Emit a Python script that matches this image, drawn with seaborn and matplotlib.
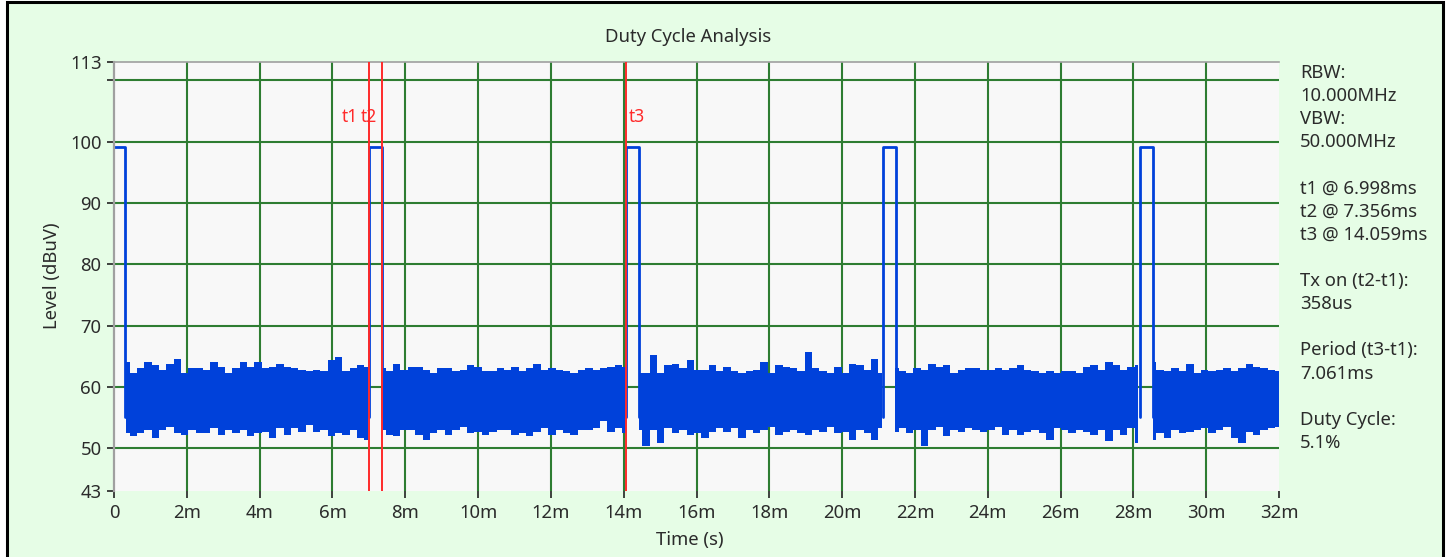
import numpy as np
import pandas as pd
import matplotlib
matplotlib.use("Agg")
import matplotlib.pyplot as plt
import seaborn as sns
from matplotlib.patches import Rectangle

# ---- values (time in ms, level in dBuV)
pulse_on = [0.0, 6.998, 14.059, 21.12, 28.181]
pulse_off = [0.31, 7.356, 14.417, 21.478, 28.539]
pulse_top = 99.2
pulse_base = 55.0

marker_names = ["t1", "t2", "t3"]
marker_t = [6.998, 7.356, 14.059]

# noise floor between pulses: upper / lower envelope, ~0.2 ms steps
seg_span = [(0.33, 6.98), (7.36, 14.06), (14.41, 21.10), (21.45, 28.14), (28.53, 32.0)]
upper_1 = [64.1, 62.2, 63.0, 64.1, 63.6, 62.7, 63.8, 64.6, 62.2, 63.0, 63.0, 62.7, 64.1, 63.3,
           62.2, 63.0, 64.1, 63.3, 64.1, 63.0, 63.3, 63.8, 63.3, 63.0, 62.7, 62.5, 62.7, 62.5,
           64.3, 64.9, 62.5, 63.0, 63.6, 63.3]
lower_1 = [52.4, 51.9, 52.4, 53.0, 51.6, 53.0, 53.5, 52.4, 52.1, 53.0, 52.4, 52.4, 53.2, 52.1,
           53.0, 52.4, 53.0, 51.9, 52.4, 52.7, 51.6, 53.2, 52.1, 53.2, 52.7, 53.7, 52.7, 53.0,
           51.9, 52.4, 52.1, 53.0, 51.6, 51.3]
upper_2 = [63.0, 62.5, 63.8, 62.7, 63.3, 63.3, 62.7, 62.2, 63.0, 63.0, 62.5, 62.7, 63.6, 63.3,
           62.5, 62.5, 63.0, 62.7, 63.3, 62.5, 63.0, 63.8, 62.7, 63.0, 62.7, 62.5, 62.2, 62.7,
           63.0, 62.7, 63.0, 63.3, 63.6, 63.3]
lower_2 = [53.0, 52.1, 51.9, 53.0, 53.0, 52.1, 51.3, 52.4, 53.0, 52.1, 53.0, 53.5, 52.4, 52.7,
           52.1, 52.7, 53.0, 53.0, 52.1, 52.4, 51.9, 52.7, 53.2, 52.1, 53.0, 52.4, 52.1, 53.0,
           53.0, 53.2, 54.5, 52.7, 53.2, 52.4]
upper_3 = [62.2, 62.2, 65.2, 62.2, 63.6, 63.8, 63.0, 64.3, 62.7, 62.7, 63.6, 62.5, 63.3, 62.5,
           62.2, 62.5, 62.7, 64.1, 62.2, 63.6, 63.3, 63.0, 62.5, 65.7, 63.0, 62.5, 62.2, 63.3,
           62.2, 63.8, 63.6, 62.7, 64.6, 62.2]
lower_3 = [53.0, 50.4, 53.0, 50.8, 53.2, 52.4, 53.0, 52.1, 52.4, 51.6, 52.7, 53.2, 52.7, 53.2,
           51.6, 53.0, 52.4, 53.0, 53.5, 52.1, 52.7, 53.0, 52.4, 52.1, 53.0, 52.7, 53.5, 52.4,
           52.7, 51.3, 53.0, 52.4, 51.3, 53.2]
upper_4 = [63.0, 62.5, 62.2, 63.0, 62.7, 63.8, 63.3, 63.6, 62.2, 62.7, 63.0, 63.0, 62.7, 62.7,
           63.0, 62.7, 63.0, 63.6, 62.7, 62.5, 62.2, 62.5, 62.2, 62.5, 62.5, 62.2, 63.3, 63.6,
           62.7, 64.1, 63.6, 62.7, 63.3, 63.6]
lower_4 = [52.7, 53.2, 52.4, 53.0, 50.4, 53.0, 53.5, 51.9, 53.0, 52.7, 53.2, 53.0, 52.7, 53.0,
           53.5, 52.1, 53.0, 52.1, 52.7, 53.0, 52.4, 51.3, 53.2, 53.0, 52.4, 53.0, 52.7, 52.1,
           53.0, 51.1, 53.0, 52.1, 53.2, 50.8]
upper_5 = [64.1, 62.7, 62.5, 63.0, 62.5, 63.8, 62.2, 62.7, 62.5, 62.7, 63.0, 62.5, 63.0, 63.8,
           63.3, 63.0, 62.7, 62.5]
lower_5 = [51.3, 52.4, 51.6, 53.0, 52.4, 52.7, 53.0, 53.2, 52.4, 53.0, 53.5, 51.6, 50.8, 52.7,
           52.1, 53.0, 53.2, 53.5]
upper_env = [upper_1, upper_2, upper_3, upper_4, upper_5]
lower_env = [lower_1, lower_2, lower_3, lower_4, lower_5]

x_ticks = [0, 2, 4, 6, 8, 10, 12, 14, 16, 18, 20, 22, 24, 26, 28, 30, 32]
x_labels = ["0", "2m", "4m", "6m", "8m", "10m", "12m", "14m", "16m", "18m", "20m",
            "22m", "24m", "26m", "28m", "30m", "32m"]
y_ticks = [43, 50, 60, 70, 80, 90, 100, 110, 113]
y_labels = ["43", "50", "60", "70", "80", "90", "100", "", "113"]
y_grid = [50, 60, 70, 80, 90, 100, 110]

info_lines = ["RBW:", "10.000MHz", "VBW:", "50.000MHz", "",
              "t1 @ 6.998ms", "t2 @ 7.356ms", "t3 @ 14.059ms", "",
              "Tx on (t2-t1):", "358us", "",
              "Period (t3-t1):", "7.061ms", "",
              "Duty Cycle:", "5.1%"]

# ---- style
sns.set_theme(style="white")
plt.rcParams["font.family"] = ["Noto Sans", "DejaVu Sans"]
BG = "#E6FDE6"
BLUE = "#0041DA"
GREEN = "#2E7D32"
RED = "#FF2A2A"
TXT = "#2B2B2B"
FS = 13.3

W, H = 1451, 557
fig = plt.figure(figsize=(W / 100, H / 100), dpi=100, facecolor="white")
fig.patches.append(Rectangle((6.5 / W, -0.05), (1443 - 6.5) / W, 1.05 - 2 / H,
                             transform=fig.transFigure, facecolor=BG, edgecolor="black",
                             lw=2.2, zorder=-10))
ax = fig.add_axes([114 / W, 1 - 491 / H, (1279 - 114) / W, (491 - 62) / H])
ax.set_facecolor("#F8F8F8")

# grid (interior lines only)
for xv in x_ticks[1:-1]:
    ax.axvline(xv, color=GREEN, lw=1.5, zorder=0.5)
for yv in y_grid:
    ax.axhline(yv, color=GREEN, lw=1.5, zorder=0.5)

# noise floor
for (t0, t1), up, lo in zip(seg_span, upper_env, lower_env):
    tt = np.linspace(t0, t1, len(up))
    ax.fill_between(tt, lo, up, step="mid", color=BLUE, lw=0, zorder=2)

# pulses
rows = []
for k, (on, off) in enumerate(zip(pulse_on, pulse_off)):
    if on > 0:
        rows.append((k, on, pulse_base))
    rows += [(k, on, pulse_top), (k, off, pulse_top), (k, off, pulse_base)]
pulses = pd.DataFrame(rows, columns=["pulse", "t", "level"])
sns.lineplot(data=pulses, x="t", y="level", units="pulse", estimator=None, sort=False,
             color=BLUE, lw=2.0, ax=ax, zorder=2.5)

# markers: label offset (px) and alignment next to each line
label_dx = {"t1": (-11, "right"), "t2": (-5, "right"), "t3": (3, "left")}
for name, tm in zip(marker_names, marker_t):
    ax.axvline(tm, color=RED, lw=1.4, zorder=3)
    dx, ha = label_dx[name]
    ax.annotate(name, (tm, 104.0), xytext=(dx, 0), textcoords="offset pixels",
                ha=ha, va="center", color=RED, fontsize=12.5)

ax.set_xlim(0, 32)
ax.set_ylim(43, 113)
ax.set_xticks(x_ticks)
ax.set_xticklabels(x_labels)
ax.set_yticks(y_ticks)
ax.set_yticklabels(y_labels)
ax.tick_params(axis="both", which="major", direction="out", length=5, width=1.2,
               colors="#222222", labelcolor=TXT, labelsize=FS, pad=4, left=True, bottom=True)
ax.set_xlabel("")
ax.set_ylabel("")
for side in ["bottom", "right"]:
    ax.spines[side].set_visible(False)
ax.spines["left"].set_color("#A0A0A0")
ax.spines["left"].set_linewidth(1.6)
ax.spines["top"].set_color("#A0A0A0")
ax.spines["top"].set_linewidth(1.2)

fig.text(688 / W, 1 - 37 / H, "Duty Cycle Analysis", ha="center", va="center",
         fontsize=FS, color=TXT)
fig.text(690 / W, 1 - 540 / H, "Time (s)", ha="center", va="center", fontsize=FS, color=TXT)
fig.text(52 / W, 1 - 276 / H, "Level (dBuV)", ha="center", va="center", rotation=90,
         fontsize=FS, color=TXT)

for i, line in enumerate(info_lines):
    if line:
        fig.text(1300 / W, 1 - (73 + i * 23.125) / H, line, ha="left", va="center",
                 fontsize=FS, color=TXT)

fig.savefig("out.png", dpi=100, facecolor=fig.get_facecolor())
